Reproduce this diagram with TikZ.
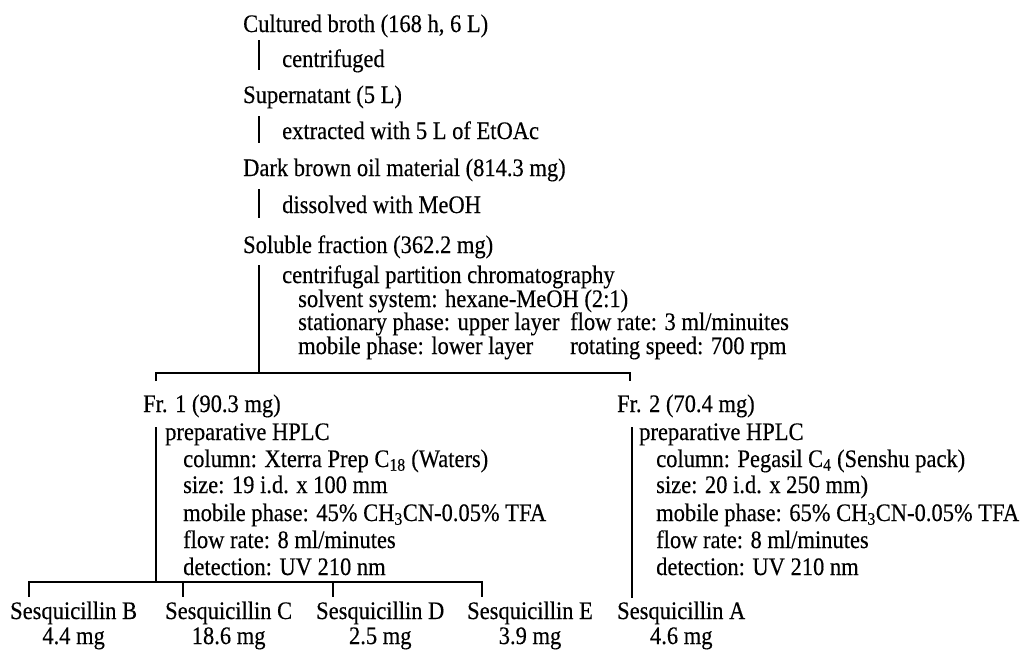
\documentclass[tikz,border=0pt]{standalone}
\usepackage{fontspec}
\setmainfont{Liberation Serif}[FakeStretch=0.893,FakeBold=0.3]
\begin{document}
\begin{tikzpicture}[x=1pt,y=-1pt,
  txt/.style={anchor=base west, inner sep=0pt, font=\fontsize{25.2}{28}\selectfont},
  ctxt/.style={anchor=base, inner sep=0pt, font=\fontsize{25.2}{28}\selectfont},
  ln/.style={line width=1.4pt, line cap=butt}]
\useasboundingbox (0,0) rectangle (1024,651);
% main column
\node[txt] (broth) at (243,32) {Cultured broth (168 h, 6 L)};
\node[txt] (cent) at (282,67) {centrifuged};
\node[txt] (sup) at (243,103) {Supernatant (5 L)};
\node[txt] (ext) at (282,139) {extracted with 5 L of EtOAc};
\node[txt] (oil) at (243,176) {Dark brown oil material (814.3 mg)};
\node[txt] (diss) at (282,213) {dissolved with MeOH};
\node[txt] (sol) at (243,253) {Soluble fraction (362.2 mg)};
\node[txt] (cpc) at (282,283) {centrifugal partition chromatography};
\node[txt] (solv) at (298,307) {solvent system: hexane-MeOH (2:1)};
\node[txt] (stat) at (298,330) {stationary phase: upper layer};
\node[txt] (mob) at (298,354) {mobile phase: lower layer};
\node[txt] (flow) at (570,330) {flow rate: 3 ml/minuites};
\node[txt] (rot) at (570,354) {rotating speed: 700 rpm};
% vertical step lines
\coordinate (a1) at (259,40); \coordinate (b1) at (259,70);
\coordinate (a2) at (259,116); \coordinate (b2) at (259,143);
\coordinate (a3) at (259,189); \coordinate (b3) at (259,218);
\coordinate (a4) at (259,265); \coordinate (b4) at (259,373);
\draw[ln] (a1) -- (b1);
\draw[ln] (a2) -- (b2);
\draw[ln] (a3) -- (b3);
\draw[ln] (a4) -- (b4);
% split into fractions
\coordinate (h1l) at (156,373); \coordinate (h1r) at (630,373);
\coordinate (t1l) at (156,381); \coordinate (t1r) at (630,381);
\draw[ln] (t1l) -- (h1l) -- (h1r) -- (t1r);
% fractions
\node[txt] (fr1) at (143,412) {Fr. 1 (90.3 mg)};
\node[txt] (fr2) at (617,412) {Fr. 2 (70.4 mg)};
% Fr 1 HPLC
\node[txt] (p1) at (165,440) {preparative HPLC};
\node[txt] (c1) at (183,467) {column: Xterra Prep C\textsubscript{18} (Waters)};
\node[txt] (s1) at (183,493) {size: 19 i.d. x 100 mm};
\node[txt] (m1) at (183,521) {mobile phase: 45\% CH\textsubscript{3}CN-0.05\% TFA};
\node[txt] (f1) at (183,548) {flow rate: 8 ml/minutes};
\node[txt] (d1) at (183,575) {detection: UV 210 nm};
% Fr 2 HPLC
\node[txt] (p2) at (639,440) {preparative HPLC};
\node[txt] (c2) at (656,467) {column: Pegasil C\textsubscript{4} (Senshu pack)};
\node[txt] (s2) at (656,493) {size: 20 i.d. x 250 mm)};
\node[txt] (m2) at (656,521) {mobile phase: 65\% CH\textsubscript{3}CN-0.05\% TFA};
\node[txt] (f2) at (656,548) {flow rate: 8 ml/minutes};
\node[txt] (d2) at (656,575) {detection: UV 210 nm};
% Fr 1 line and split
\coordinate (v5a) at (156,427); \coordinate (v5b) at (156,582);
\draw[ln] (v5a) -- (v5b);
\coordinate (hB) at (29,582); \coordinate (hE) at (482,582);
\coordinate (tB) at (29,597); \coordinate (tC) at (183,597);
\coordinate (tD) at (333,597); \coordinate (tE) at (482,597);
\coordinate (hC) at (183,582); \coordinate (hD) at (333,582);
\draw[ln] (tB) -- (hB) -- (hE) -- (tE);
\draw[ln] (hC) -- (tC);
\draw[ln] (hD) -- (tD);
% Fr 2 line
\coordinate (v6a) at (632,427); \coordinate (v6b) at (632,598);
\draw[ln] (v6a) -- (v6b);
% products
\node[txt] (sqB) at (10,619) {Sesquicillin B};
\node[txt] (sqC) at (165,619) {Sesquicillin C};
\node[txt] (sqD) at (316,619) {Sesquicillin D};
\node[txt] (sqE) at (467,619) {Sesquicillin E};
\node[txt] (sqA) at (617,619) {Sesquicillin A};
\node[ctxt] (mB) at (sqB.base |- 0,644) {4.4 mg};
\node[ctxt] (mC) at (sqC.base |- 0,644) {18.6 mg};
\node[ctxt] (mD) at (sqD.base |- 0,644) {2.5 mg};
\node[ctxt] (mE) at (sqE.base |- 0,644) {3.9 mg};
\node[ctxt] (mA) at (sqA.base |- 0,644) {4.6 mg};
\end{tikzpicture}
\end{document}
